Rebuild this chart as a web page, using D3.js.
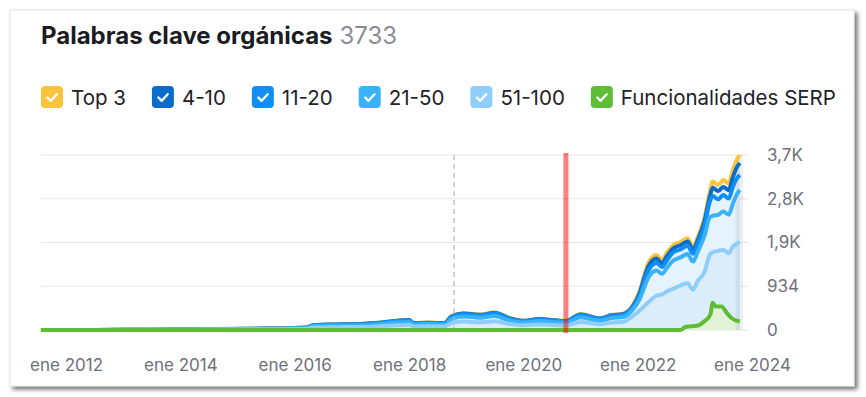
<!DOCTYPE html>
<html lang="es">
<head>
    <meta charset="UTF-8" />
    <title>Palabras clave orgánicas</title>
    <script src="https://d3js.org/d3.v7.min.js"></script>
    <style>
        body {
            margin: 0;
            background: #fff;
            font-family: Inter, "Noto Sans", Arial, sans-serif;
        }
        .axis text {
            fill: #6e717b;
            font-size: 17px;
            font-family: Inter, "Noto Sans", Arial, sans-serif;
        }
    </style>
</head>
<body>
<svg id="chart" width="866" height="397"></svg>
<script>
    // Fechas de las muestras
    const dates = [
        "2011-07-25", "2012-07-01", "2013-07-01", "2014-07-01", "2015-07-01", "2016-01-01",
        "2016-03-15", "2016-05-01", "2016-10-01", "2017-03-01", "2017-07-01", "2017-11-01",
        "2018-01-01", "2018-02-01", "2018-05-01", "2018-08-15", "2018-10-01", "2018-12-15",
        "2019-04-01", "2019-07-01", "2019-10-01", "2020-01-01", "2020-04-15", "2020-07-15",
        "2020-10-01", "2021-01-01", "2021-05-01", "2021-07-15", "2021-10-01", "2021-12-01",
        "2022-01-15", "2022-02-15", "2022-03-10", "2022-05-01", "2022-06-05", "2022-07-05",
        "2022-08-15", "2022-10-01", "2022-11-15", "2022-12-20", "2023-01-20", "2023-03-05",
        "2023-04-05", "2023-04-25", "2023-05-30", "2023-07-01", "2023-08-05", "2023-09-01",
        "2023-09-25", "2023-10-15"
    ];

    // Valores por rango de posiciones
    const top3 = [0, 0, 0, 0, 1, 1, 1, 2, 2, 3, 3, 4, 4, 3, 3, 3, 6, 7, 7, 8, 5, 4, 5, 4, 4, 7, 5, 6, 7,
        20, 40, 60, 75, 75, 65, 70, 70, 70, 70, 65, 65, 75, 90, 135, 135, 145, 145, 155, 165, 170];
    const pos4_10 = [0, 0, 0, 1, 1, 1, 2, 3, 4, 4, 5, 6, 6, 5, 5, 5, 9, 11, 10, 11, 8, 6, 7, 6, 6, 10, 8, 10, 11,
        25, 50, 80, 90, 95, 80, 90, 85, 90, 90, 85, 85, 95, 110, 175, 175, 175, 180, 205, 235, 254];
    const pos11_20 = [0, 0, 1, 3, 5, 7, 8, 16, 18, 20, 24, 31, 32, 22, 24, 22, 45, 54, 50, 56, 39, 30, 36, 32, 29, 51, 38, 48, 53,
        45, 90, 130, 145, 160, 145, 160, 175, 170, 180, 170, 170, 220, 320, 420, 330, 350, 345, 360, 340, 320];
    const pos21_50 = [0, 1, 2, 5, 10, 14, 17, 32, 36, 39, 48, 62, 65, 45, 48, 45, 90, 108, 99, 113, 78, 60, 72, 63, 59, 102, 75, 96, 105,
        140, 250, 420, 530, 540, 440, 500, 600, 600, 620, 600, 620, 780, 800, 780, 770, 820, 820, 920, 1050, 1104];
    const pos51_100 = [0, 1, 3, 9, 15, 22, 27, 52, 60, 64, 80, 102, 108, 75, 80, 75, 150, 180, 164, 187, 130, 100, 120, 105, 97, 170, 124, 160, 174,
        300, 420, 520, 590, 730, 760, 820, 880, 950, 1000, 860, 1050, 1250, 1600, 1660, 1690, 1710, 1640, 1780, 1840, 1885];

    // Funcionalidades SERP (serie aparte, sin apilar)
    const serpDates = [
        "2011-07-25", "2022-10-01", "2022-11-01", "2023-01-15", "2023-03-01", "2023-04-10",
        "2023-04-25", "2023-05-15", "2023-06-20", "2023-07-25", "2023-08-25", "2023-10-15"
    ];
    const serp = [0, 0, 65, 90, 180, 330, 580, 500, 500, 360, 250, 180];

    const series = [
        { key: "top3", label: "Top 3", color: "#fcc33c", values: top3 },
        { key: "p4_10", label: "4-10", color: "#0a6cc6", values: pos4_10 },
        { key: "p11_20", label: "11-20", color: "#108ef3", values: pos11_20 },
        { key: "p21_50", label: "21-50", color: "#38b3f9", values: pos21_50 },
        { key: "p51_100", label: "51-100", color: "#8fcdfb", values: pos51_100 }
    ];
    const serpColor = "#5fbd35";

    const yTicks = [0, 934, 1868, 2802, 3736];
    const yTickLabels = ["0", "934", "1,9K", "2,8K", "3,7K"];
    const xTicks = ["2012-01-01", "2014-01-01", "2016-01-01", "2018-01-01", "2020-01-01", "2022-01-01", "2024-01-01"];
    const xTickLabels = ["ene 2012", "ene 2014", "ene 2016", "ene 2018", "ene 2020", "ene 2022", "ene 2024"];

    // Marcas verticales y zona final
    const dashedDate = "2018-10-15";
    const redDate = "2020-09-29";
    const bandStart = "2023-09-18";
    const bandEnd = "2023-11-05";

    const parse = d3.utcParse("%Y-%m-%d");
    const svg = d3.select("#chart");

    // Tarjeta con sombra
    const defs = svg.append("defs");
    const filter = defs.append("filter").attr("id", "shadow")
        .attr("x", "-5%").attr("y", "-5%").attr("width", "115%").attr("height", "115%");
    filter.append("feDropShadow")
        .attr("dx", 3).attr("dy", 3).attr("stdDeviation", 2)
        .attr("flood-color", "#000").attr("flood-opacity", 0.55);

    svg.append("rect")
        .attr("x", 10).attr("y", 10)
        .attr("width", 844).attr("height", 376)
        .attr("fill", "#fff")
        .attr("stroke", "#e4e4e4")
        .attr("filter", "url(#shadow)");

    // Título
    const title = svg.append("text")
        .attr("x", 41).attr("y", 44)
        .attr("font-size", 24)
        .attr("fill", "#1a1c22");
    title.append("tspan").attr("font-weight", 700).text("Palabras clave orgánicas");
    title.append("tspan").attr("fill", "#8a8d95").attr("dx", 7).text("3733");

    // Leyenda
    const legendItems = series.map(s => ({ label: s.label, color: s.color }))
        .concat([{ label: "Funcionalidades SERP", color: serpColor }]);
    let lx = 41;
    legendItems.forEach(item => {
        const g = svg.append("g").attr("transform", `translate(${lx}, 86)`);
        g.append("rect")
            .attr("width", 22).attr("height", 22)
            .attr("rx", 4)
            .attr("fill", item.color);
        g.append("path")
            .attr("d", "M6.5,11.5 L9.8,14.8 L15.8,8.3")
            .attr("fill", "none")
            .attr("stroke", "#fff")
            .attr("stroke-width", 2.4)
            .attr("stroke-linecap", "round")
            .attr("stroke-linejoin", "round");
        const t = g.append("text")
            .attr("x", 30).attr("y", 19)
            .attr("font-size", 20.5)
            .attr("fill", "#1f2128")
            .text(item.label);
        lx += 30 + t.node().getComputedTextLength() + 26;
    });

    // Escalas
    const x = d3.scaleUtc()
        .domain([parse("2012-01-01"), parse("2024-01-01")])
        .range([66, 752]);
    const y = d3.scaleLinear()
        .domain([0, 3736])
        .range([330, 155]);

    const plotLeft = 41, plotRight = 748;

    // Rejilla horizontal
    svg.append("g")
        .selectAll("line")
        .data(yTicks)
        .join("line")
        .attr("x1", plotLeft).attr("x2", plotRight)
        .attr("y1", d => y(d)).attr("y2", d => y(d))
        .attr("stroke", "#e6e6e6")
        .attr("stroke-width", 1);

    // Datos apilados
    const rows = dates.map((d, i) => {
        const r = { date: parse(d) };
        series.forEach(s => r[s.key] = s.values[i]);
        return r;
    });
    const stackOrder = ["p51_100", "p21_50", "p11_20", "p4_10", "top3"];
    const stacked = d3.stack().keys(stackOrder)(rows);
    const colorOf = key => series.find(s => s.key === key).color;

    const area = d3.area()
        .x(d => x(d.data.date))
        .y0(d => y(d[0]))
        .y1(d => y(d[1]))
        .curve(d3.curveMonotoneX);
    const line = d3.line()
        .x(d => x(d.data.date))
        .y(d => y(d[1]))
        .curve(d3.curveMonotoneX);

    svg.append("g")
        .selectAll("path")
        .data(stacked)
        .join("path")
        .attr("d", area)
        .attr("fill", d => d.key === "p51_100" ? "#dbedfb" : "#e5f3fd");

    // Área SERP
    const serpRows = serpDates.map((d, i) => ({ date: parse(d), v: serp[i] }));
    svg.append("path")
        .datum(serpRows)
        .attr("d", d3.area()
            .x(d => x(d.date))
            .y0(y(0))
            .y1(d => y(d.v))
            .curve(d3.curveMonotoneX))
        .attr("fill", "#e1f2d6");

    // Zona gris final
    svg.append("rect")
        .attr("x", x(parse(bandStart)))
        .attr("y", y(3736))
        .attr("width", x(parse(bandEnd)) - x(parse(bandStart)))
        .attr("height", y(0) - y(3736))
        .attr("fill", "#6f7f8f")
        .attr("opacity", 0.13);

    // Líneas: la superior primero, la de 51-100 encima
    svg.append("g")
        .selectAll("path")
        .data(stacked.slice().reverse())
        .join("path")
        .attr("d", line)
        .attr("fill", "none")
        .attr("stroke", d => colorOf(d.key))
        .attr("stroke-width", 4)
        .attr("stroke-linejoin", "round");

    // Línea vertical discontinua
    svg.append("line")
        .attr("x1", x(parse(dashedDate))).attr("x2", x(parse(dashedDate)))
        .attr("y1", y(3736)).attr("y2", y(0))
        .attr("stroke", "#b8b8b8")
        .attr("stroke-width", 1.3)
        .attr("stroke-dasharray", "5,4");

    // Línea SERP
    svg.append("path")
        .datum(serpRows)
        .attr("d", d3.line()
            .x(d => x(d.date))
            .y(d => y(d.v))
            .curve(d3.curveMonotoneX))
        .attr("fill", "none")
        .attr("stroke", serpColor)
        .attr("stroke-width", 4)
        .attr("stroke-linejoin", "round");

    // Línea roja
    svg.append("line")
        .attr("x1", x(parse(redDate))).attr("x2", x(parse(redDate)))
        .attr("y1", y(3736) - 2).attr("y2", y(0) + 3)
        .attr("stroke", "#ff0000")
        .attr("stroke-opacity", 0.5)
        .attr("stroke-width", 5);

    // Eje X
    svg.append("g")
        .attr("class", "axis")
        .attr("transform", "translate(0, 342)")
        .call(d3.axisBottom(x)
            .tickValues(xTicks.map(parse))
            .tickFormat((d, i) => xTickLabels[i])
            .tickSize(0)
            .tickPadding(17))
        .call(g => g.select(".domain").remove());

    // Eje Y a la derecha
    svg.append("g")
        .attr("class", "axis")
        .attr("transform", "translate(752, 0)")
        .call(d3.axisRight(y)
            .tickValues(yTicks)
            .tickFormat((d, i) => yTickLabels[i])
            .tickSize(0)
            .tickPadding(15))
        .call(g => g.select(".domain").remove());
</script>
</body>
</html>
